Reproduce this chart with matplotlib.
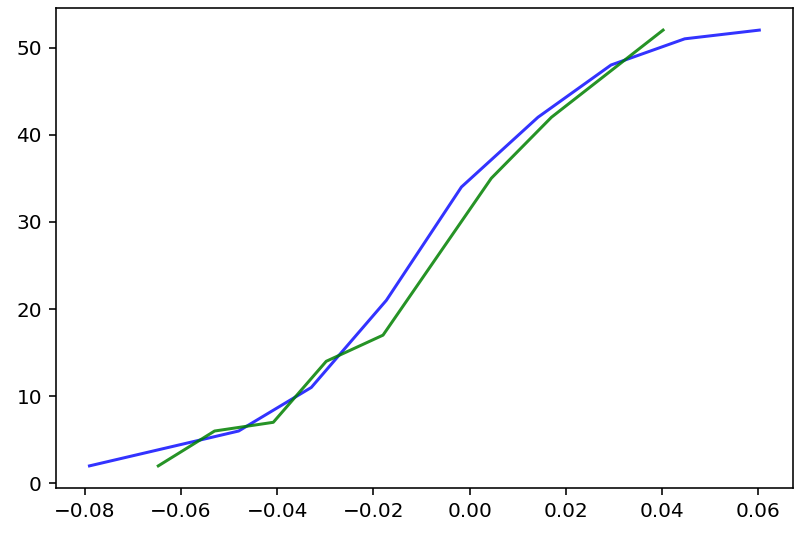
import matplotlib
matplotlib.use('Agg')
import matplotlib.pyplot as plt

# blue curve
x_blue = [-0.079, -0.048, -0.0329, -0.0173, -0.0017, 0.0142, 0.0294, 0.0447, 0.0602]
y_blue = [2, 6, 11, 21, 34, 42, 48, 51, 52]

# green curve
x_green = [-0.0647, -0.053, -0.0408, -0.0298, -0.018, 0.0045, 0.017, 0.0402]
y_green = [2, 6, 7, 14, 17, 35, 42, 52]

fig = plt.figure(figsize=(794/144, 540/144), dpi=144)
ax = fig.add_axes([0.0705, 0.0969, 0.928, 0.8877])

ax.plot(x_blue, y_blue, color='blue', alpha=0.8, lw=1.5)
ax.plot(x_green, y_green, color='green', alpha=0.85, lw=1.5)

ax.set_yticks([0, 10, 20, 30, 40, 50])

fig.savefig('out.png', dpi=144)
